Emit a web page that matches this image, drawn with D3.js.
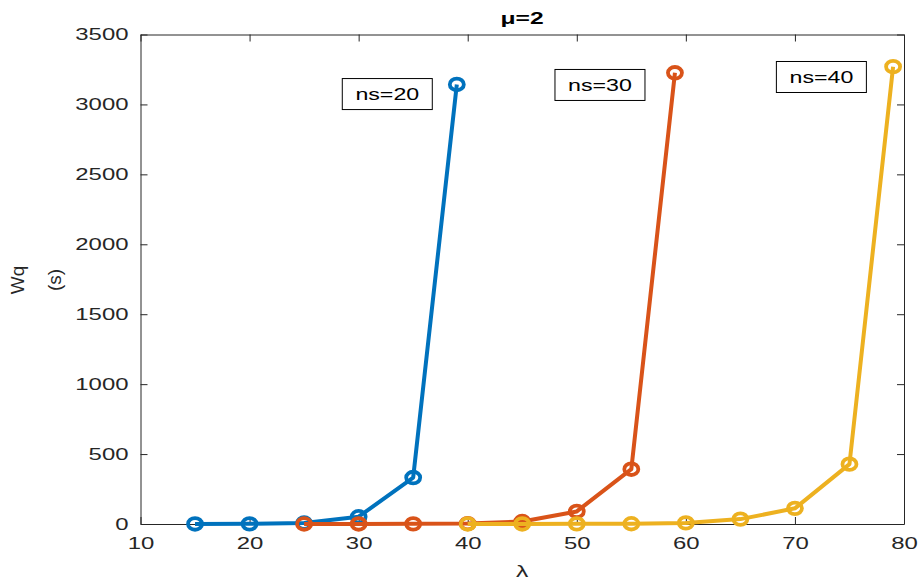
<!DOCTYPE html>
<html>
<head>
<meta charset="utf-8">
<script src="https://cdn.jsdelivr.net/npm/d3@7"></script>
<style>
  html, body { margin: 0; padding: 0; background: #fff; }
  svg { display: block; font-family: "Liberation Sans", Arial, sans-serif; }
</style>
</head>
<body>
<svg id="chart" width="918" height="582"></svg>
<script>
// ---- data ----
const lambda20 = [15, 20, 25, 30, 35, 39];
const wq20     = [0.5, 1, 7, 52, 332, 3143];
const lambda30 = [25, 30, 35, 40, 45, 50, 55, 59];
const wq30     = [0.3, 0.5, 1, 3, 18, 90, 392, 3226];
const lambda40 = [40, 45, 50, 55, 60, 65, 70, 75, 79];
const wq40     = [0.3, 0.5, 1, 2, 8, 35, 112, 428, 3270];
const seriesNames = ["ns=20", "ns=30", "ns=40"];
const labelX = [28.5, 48.0, 68.3];      // data x of annotation box left edge
const labelY = [3185, 3250, 3307];      // data y of annotation box top edge
const xTicks = [10, 20, 30, 40, 50, 60, 70, 80];
const yTicks = [0, 500, 1000, 1500, 2000, 2500, 3000, 3500];
const titleText = "μ=2";
const xLabel = "λ";
const yLabelLines = ["Wq", "(s)"];

// ---- layout ----
const colors = ["#0072BD", "#D95319", "#EDB120"];
const axisColor = "#262626";
const SX = 1.45; // horizontal text stretch seen in reference
const L = 140.5, R = 904, T = 34.5, B = 524;

const svg = d3.select("#chart");
const x = d3.scaleLinear().domain([10, 80]).range([L, R]);
const y = d3.scaleLinear().domain([0, 3500]).range([B, T]);
const fmt = d3.format("d");

// frame / axes
function styleAxis(g) {
  g.selectAll("path.domain").attr("stroke", axisColor).attr("stroke-width", 1);
  g.selectAll(".tick line").attr("stroke", axisColor).attr("stroke-width", 1);
  g.selectAll(".tick text").attr("fill", axisColor).attr("font-size", 16.5)
    .attr("font-family", "Liberation Sans, Arial, sans-serif");
}
const gB = svg.append("g").attr("transform", `translate(0,${B})`)
  .call(d3.axisBottom(x).tickValues(xTicks).tickFormat(fmt).tickSizeInner(-7).tickSizeOuter(0).tickPadding(13));
styleAxis(gB);
gB.selectAll(".tick text").attr("transform", `scale(${SX},1)`);

const gL = svg.append("g").attr("transform", `translate(${L},0)`)
  .call(d3.axisLeft(y).tickValues(yTicks).tickFormat(fmt).tickSizeInner(-7).tickSizeOuter(0).tickPadding(12));
styleAxis(gL);
gL.selectAll(".tick text").attr("x", -12 / SX).attr("transform", `scale(${SX},1)`);

const gT = svg.append("g").attr("transform", `translate(0,${T})`)
  .call(d3.axisTop(x).tickValues(xTicks).tickSizeInner(-7).tickSizeOuter(0).tickFormat(""));
styleAxis(gT);
const gR = svg.append("g").attr("transform", `translate(${R},0)`)
  .call(d3.axisRight(y).tickValues(yTicks).tickSizeInner(-7).tickSizeOuter(0).tickFormat(""));
styleAxis(gR);

// series
const series = [
  { xs: lambda20, ys: wq20 },
  { xs: lambda30, ys: wq30 },
  { xs: lambda40, ys: wq40 }
];
const line = d3.line().x(d => x(d[0])).y(d => y(d[1]));
series.forEach((s, i) => {
  const pts = s.xs.map((v, k) => [v, s.ys[k]]);
  const g = svg.append("g");
  g.append("path").datum(pts)
    .attr("d", line).attr("fill", "none")
    .attr("stroke", colors[i]).attr("stroke-width", 4)
    .attr("stroke-linejoin", "round");
  g.selectAll("ellipse").data(pts).join("ellipse")
    .attr("cx", d => x(d[0])).attr("cy", d => y(d[1]))
    .attr("rx", 7).attr("ry", 5.8)
    .attr("fill", "none").attr("stroke", colors[i]).attr("stroke-width", 3.8);
});

// annotation boxes
const boxW = 90, boxH = 31;
seriesNames.forEach((name, i) => {
  const bx = x(labelX[i]), by = y(labelY[i]);
  svg.append("rect").attr("x", bx).attr("y", by).attr("width", boxW).attr("height", boxH)
    .attr("fill", "#fff").attr("stroke", "#000").attr("stroke-width", 1);
  svg.append("g").attr("transform", `translate(${bx + boxW / 2},${by + boxH / 2 + 6}) scale(${SX},1)`)
    .append("text").attr("text-anchor", "middle").attr("font-size", 16).attr("fill", "#000")
    .text(name);
});

// title
svg.append("g").attr("transform", `translate(${522},${24}) scale(${SX},1)`)
  .append("text").attr("text-anchor", "middle").attr("font-size", 17)
  .attr("font-weight", "bold").attr("fill", "#000").text(titleText);

// x label
svg.append("g").attr("transform", `translate(${(L + R) / 2},${577}) scale(${SX},1)`)
  .append("text").attr("text-anchor", "middle").attr("font-size", 17)
  .attr("fill", axisColor).text(xLabel);

// y label (two lines, rotated)
const ylx = [24, 61];
yLabelLines.forEach((t, i) => {
  svg.append("text")
    .attr("transform", `translate(${ylx[i]},${280}) rotate(-90)`)
    .attr("text-anchor", "middle").attr("font-size", 19)
    .attr("fill", axisColor).text(t);
});
</script>
</body>
</html>
